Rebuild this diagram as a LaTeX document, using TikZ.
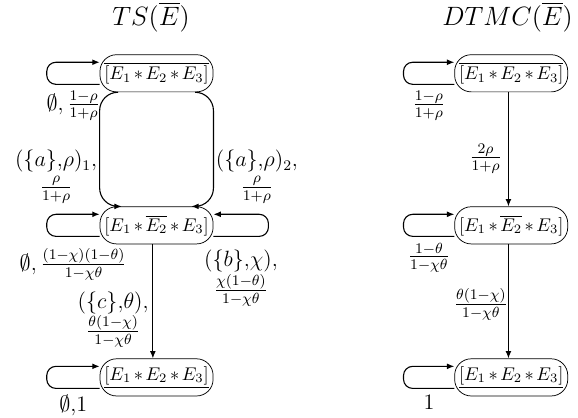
\documentclass[tikz,border=0pt]{standalone}
\usepackage{amsmath}
\usepackage{xcolor}
\usepackage{tikz}
\usetikzlibrary{positioning, arrows.meta}

\newcommand{\stlabel}[1]{$\medmuskip=2.5mu #1$\hspace{4pt}}

\begin{document}
\begin{tikzpicture}[node distance=2.18cm,
    st/.style={draw, rectangle, rounded corners=9pt, minimum width=2.16cm, minimum height=0.71cm, inner xsep=0pt},
    trans/.style={-{Latex[length=4pt, width=3.2pt]}, line width=0.6pt},
    selfloop/.style={trans, rounded corners=5pt},
    lbl/.style={font=\large},
    title/.style={font=\Large, inner sep=0pt}]
    \useasboundingbox (-2.99,-6.58) rectangle (8.05,1.40);
    % states of TS
    \node[st] (t1) {\stlabel{\overline{[E_1*E_2*E_3]}}};
    \node[st, below=of t1] (m1) {\stlabel{[E_1*\overline{E_2}*E_3]}};
    \node[st, below=of m1] (b1) {\stlabel{\underline{[E_1*E_2*E_3]}}};
    % states of DTMC
    \node[st, right=4.6cm of t1] (t2) {\stlabel{\overline{[E_1*E_2*E_3]}}};
    \node[st, below=of t2] (m2) {\stlabel{[E_1*\overline{E_2}*E_3]}};
    \node[st, below=of m2] (b2) {\stlabel{\underline{[E_1*E_2*E_3]}}};
    \node[title, above=0.42cm of t1, xshift=-3pt] (ts) {$TS(\overline{E})$};
    \node[title, above=0.42cm of t2, xshift=-2pt] (dtmc) {$DTMC(\overline{E})$};
    % transitions of TS
    \draw[selfloop] ([yshift=-6pt]t1.west) -- node[lbl, below] {$\emptyset,\frac{1-\rho}{1+\rho}$} ++(-1.01cm,0) |- ([yshift=6pt]t1.west);
    \draw[trans, rounded corners=10pt] ([xshift=10pt]t1.south west) -- (t1.south west) -- node[lbl, left, pos=0.74, align=center, inner sep=1pt] {$(\{a\}{,}\rho)_1,$\\$\frac{\rho}{1+\rho}$} (m1.north west) -- ([xshift=12pt]m1.north west);
    \draw[trans, rounded corners=10pt] ([xshift=-10pt]t1.south east) -- (t1.south east) -- node[lbl, right, pos=0.74, align=center, inner sep=1pt] {$(\{a\}{,}\rho)_2,$\\$\frac{\rho}{1+\rho}$} (m1.north east) -- ([xshift=-12pt]m1.north east);
    \draw[selfloop] ([yshift=-6pt]m1.west) -- node[lbl, below, yshift=-3pt] {$\emptyset,\frac{(1-\chi)(1-\theta)}{1-\chi\theta}$} ++(-1.01cm,0) |- ([yshift=6pt]m1.west);
    \draw[selfloop] ([yshift=-6pt]m1.east) -- node[lbl, below=4pt, align=center] {$(\{b\}{,}\chi),$\\$\frac{\chi(1-\theta)}{1-\chi\theta}$} ++(1.05cm,0) |- ([yshift=6pt]m1.east);
    \draw[trans] ([xshift=-2pt]m1.south) -- node[lbl, left, pos=0.66, align=center, inner sep=2pt] {$(\{c\}{,}\theta),$\\$\frac{\theta(1-\chi)}{1-\chi\theta}$} ([xshift=-2pt]b1.north);
    \draw[selfloop] ([yshift=-6pt]b1.west) -- node[lbl, below] {$\emptyset$,$1$} ++(-1.01cm,0) |- ([yshift=6pt]b1.west);
    % transitions of DTMC
    \draw[selfloop] ([yshift=-6pt]t2.west) -- node[lbl, below] {$\frac{1-\rho}{1+\rho}$} ++(-0.97cm,0) |- ([yshift=6pt]t2.west);
    \draw[trans] ([xshift=-1.5pt]t2.south) -- node[lbl, left, pos=0.58] {$\frac{2\rho}{1+\rho}$} ([xshift=-1.5pt]m2.north);
    \draw[selfloop] ([yshift=-6pt]m2.west) -- node[lbl, below] {$\frac{1-\theta}{1-\chi\theta}$} ++(-0.97cm,0) |- ([yshift=6pt]m2.west);
    \draw[trans] ([xshift=-1.5pt]m2.south) -- node[lbl, left, pos=0.53, inner sep=0pt] {$\frac{\theta(1-\chi)}{1-\chi\theta}$} ([xshift=-1.5pt]b2.north);
    \draw[selfloop] ([yshift=-6pt]b2.west) -- node[lbl, below] {$1$} ++(-0.97cm,0) |- ([yshift=6pt]b2.west);
\end{tikzpicture}
\end{document}
